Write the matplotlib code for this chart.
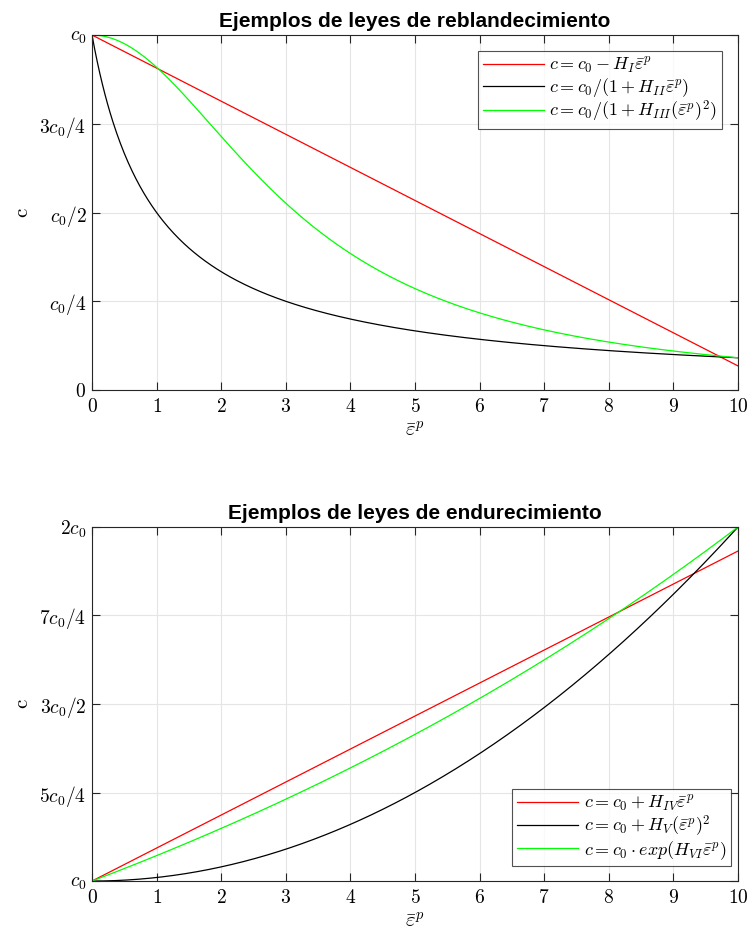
import numpy as np
import matplotlib.pyplot as plt

plt.rcParams['mathtext.fontset'] = 'cm'
plt.rcParams['font.family'] = ['Liberation Sans', 'DejaVu Sans']

# parámetros de las leyes (c0 = 1)
c0 = 1.0
H_I, H_II, H_III = 0.0932, 1.0, 0.1
H_IV, H_V, H_VI = 0.0932, 0.01, np.log(2) / 10
eps_max = 10.0

x_ticks = list(range(0, 11))
soft_ticks = [0, 0.25, 0.5, 0.75, 1.0]
soft_labels = ['$0$', '$c_0/4$', '$c_0/2$', '$3c_0/4$', '$c_0$']
hard_ticks = [1.0, 1.25, 1.5, 1.75, 2.0]
hard_labels = ['$c_0$', '$5c_0/4$', '$3c_0/2$', '$7c_0/4$', '$2c_0$']

soft_names = [r'$c=c_0-H_I\bar{\varepsilon}^p$',
              r'$c=c_0/(1+H_{II}\bar{\varepsilon}^p)$',
              r'$c=c_0/(1+H_{III}(\bar{\varepsilon}^p)^2)$']
hard_names = [r'$c=c_0+H_{IV}\bar{\varepsilon}^p$',
              r'$c=c_0+H_V(\bar{\varepsilon}^p)^2$',
              r'$c=c_0\cdot exp(H_{VI}\bar{\varepsilon}^p)$']
colors = ['#ff0000', '#000000', '#00ff00']

e = np.linspace(0, eps_max, 500)
soft = [c0 - H_I * e, c0 / (1 + H_II * e), c0 / (1 + H_III * e**2)]
hard = [c0 + H_IV * e, c0 + H_V * e**2, c0 * np.exp(H_VI * e)]

fig = plt.figure(figsize=(7.48, 9.34), dpi=100)
ax1 = fig.add_axes([0.123, 0.5824, 0.8636, 0.3801])
ax2 = fig.add_axes([0.123, 0.0567, 0.8636, 0.3791])

def style(ax, yt, yl, ylim):
    ax.set_xlim(0, eps_max)
    ax.set_ylim(*ylim)
    ax.set_xticks(x_ticks)
    ax.set_xticklabels(['$%d$' % t for t in x_ticks], fontsize=14)
    ax.set_yticks(yt)
    ax.set_yticklabels(yl, fontsize=14)
    ax.grid(True, color='#e5e5e5', linewidth=0.8)
    ax.set_axisbelow(True)
    ax.tick_params(direction='in', length=6, width=0.8, color='#262626',
                   top=True, right=True)
    ax.tick_params(axis='x', pad=6)
    ax.tick_params(axis='y', pad=4)
    for s in ax.spines.values():
        s.set_color('#262626')
        s.set_linewidth(0.8)
    ax.set_xlabel(r'$\bar{\varepsilon}^p$', fontsize=15, labelpad=3)
    ax.set_ylabel(r'$\mathrm{c}$', fontsize=15, labelpad=5)

def legend(ax, loc, anchor):
    leg = ax.legend(loc=loc, bbox_to_anchor=anchor, borderaxespad=0,
                    fontsize=13, frameon=True, fancybox=False,
                    edgecolor='#262626', handlelength=3.4, borderpad=0.25,
                    labelspacing=0.0, handletextpad=0.3)
    leg.get_frame().set_linewidth(0.8)

for y, col, name in zip(soft, colors, soft_names):
    ax1.plot(e, y, color=col, lw=0.9, label=name)
style(ax1, soft_ticks, soft_labels, (0, 1))
ax1.set_title('Ejemplos de leyes de reblandecimiento', fontsize=15,
              fontweight='bold', pad=6)
legend(ax1, 'upper right', (0.975, 0.955))

for y, col, name in zip(hard, colors, hard_names):
    ax2.plot(e, y, color=col, lw=0.9, label=name)
style(ax2, hard_ticks, hard_labels, (1, 2))
ax2.set_title('Ejemplos de leyes de endurecimiento', fontsize=15,
              fontweight='bold', pad=6)
legend(ax2, 'lower right', (0.989, 0.042))

fig.savefig('out.png', dpi=100)
